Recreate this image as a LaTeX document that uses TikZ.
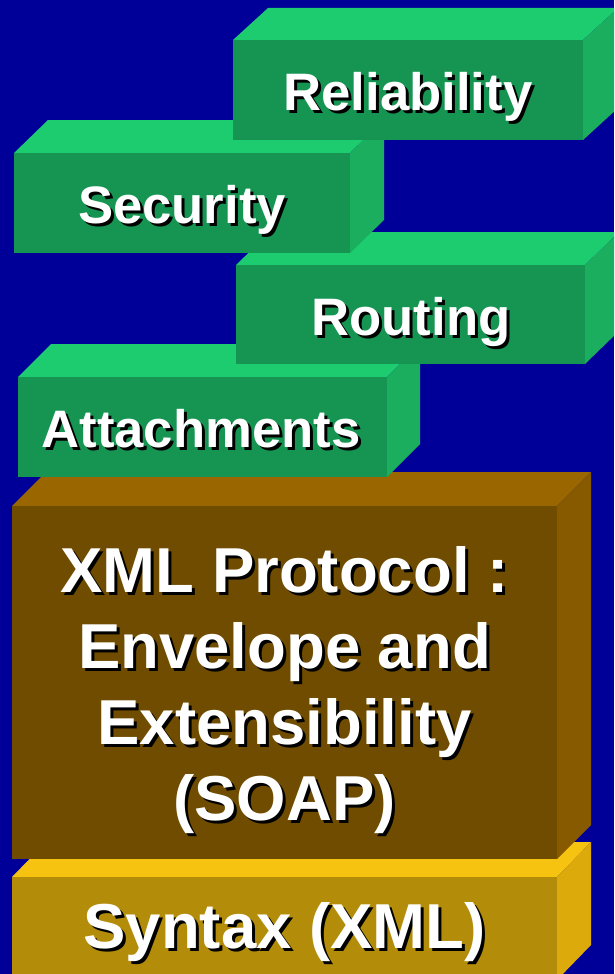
\documentclass[tikz,border=0pt]{standalone}
\usepackage{fontspec}
\setmainfont{Liberation Sans}
\newcommand\shadowed[1]{\rlap{\hspace{3pt}\raisebox{-3pt}{\color{black}#1}}#1}
\begin{document}
\begin{tikzpicture}[x=1pt, y=-1pt,
    layertext/.style={text=white, inner sep=0pt, anchor=base, font=\bfseries\fontsize{52.7}{60}\selectfont},
    bigtext/.style={layertext, align=center, font=\bfseries\fontsize{63.5}{76}\selectfont}]

    \definecolor{mybg}{RGB}{0, 0, 153}
    \definecolor{greentop}{RGB}{30, 204, 112}
    \definecolor{greenfront}{RGB}{22, 148, 82}
    \definecolor{greenside}{RGB}{26, 174, 94}
    \definecolor{browntop}{RGB}{153, 102, 0}
    \definecolor{brownfront}{RGB}{112, 76, 0}
    \definecolor{brownside}{RGB}{136, 90, 0}
    \definecolor{yellowtop}{RGB}{245, 195, 16}
    \definecolor{yellowfront}{RGB}{179, 140, 10}
    \definecolor{yellowside}{RGB}{221, 170, 12}

    \useasboundingbox (0,0) rectangle (614,974);
    \clip (0,0) rectangle (614,974);
    \fill [mybg] (0,0) rectangle (614,974);

    % syntax
    \fill [yellowtop] (12,877) -- (46,842) -- (591,842) -- (557,877) -- cycle;
    \fill [yellowside] (557,877) -- (591,842) -- (591,945) -- (557,980) -- cycle;
    \fill [yellowfront] (12,877) rectangle (557,980);
    \node (syntax) [bigtext] at (284.5,948) {\shadowed{Syntax (XML)}};

    % xml protocol
    \fill [browntop] (12,506) -- (46,472) -- (591,472) -- (557,506) -- cycle;
    \fill [brownside] (557,506) -- (591,472) -- (591,825) -- (557,859) -- cycle;
    \fill [brownfront] (12,506) rectangle (557,859);
    \node (soap) [bigtext] at (284.5,820) {\shadowed{XML Protocol :}\\ \shadowed{Envelope and}\\ \shadowed{Extensibility}\\ \shadowed{(SOAP)}};

    % attachments
    \fill [greentop] (18,377) -- (51,344) -- (420,344) -- (387,377) -- cycle;
    \fill [greenside] (387,377) -- (420,344) -- (420,444) -- (387,477) -- cycle;
    \fill [greenfront] (18,377) rectangle (387,477);
    \node (attach) [layertext] at (201,447) {\shadowed{Attachments}};

    % routing
    \fill [greentop] (236,265) -- (270,232) -- (619,232) -- (585,265) -- cycle;
    \fill [greenside] (585,265) -- (619,232) -- (619,331) -- (585,364) -- cycle;
    \fill [greenfront] (236,265) rectangle (585,364);
    \node (routing) [layertext] at (411,335) {\shadowed{Routing}};

    % security
    \fill [greentop] (14,153) -- (48,120) -- (384,120) -- (350,153) -- cycle;
    \fill [greenside] (350,153) -- (384,120) -- (384,220) -- (350,253) -- cycle;
    \fill [greenfront] (14,153) rectangle (350,253);
    \node (security) [layertext] at (182,223) {\shadowed{Security}};

    % reliability
    \fill [greentop] (233,40) -- (268,8) -- (618,8) -- (583,40) -- cycle;
    \fill [greenside] (583,40) -- (618,8) -- (618,108) -- (583,140) -- cycle;
    \fill [greenfront] (233,40) rectangle (583,140);
    \node (reliab) [layertext] at (408,110) {\shadowed{Reliability}};

\end{tikzpicture}
\end{document}
